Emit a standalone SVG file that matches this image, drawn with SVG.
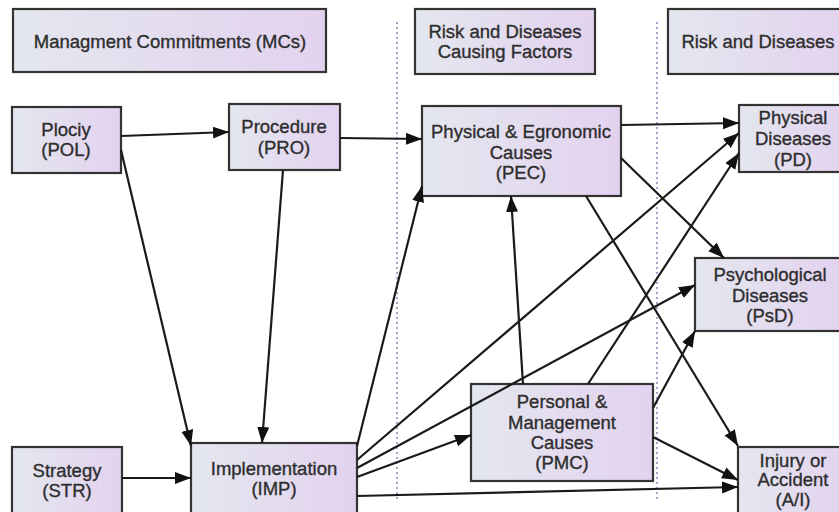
<svg xmlns="http://www.w3.org/2000/svg" width="839" height="512" viewBox="0 0 839 512">
  <defs>
    <linearGradient id="boxFill" x1="0" y1="0" x2="1" y2="0">
      <stop offset="0" stop-color="#e4e7ef"/>
      <stop offset="1" stop-color="#e3d2ef"/>
    </linearGradient>
    <marker id="arrow" markerUnits="userSpaceOnUse" markerWidth="18" markerHeight="14" refX="16" refY="6" orient="auto">
      <path d="M0,0 L16,6 L0,12 z" fill="#111"/>
    </marker>
    <style>
      .box { fill: url(#boxFill); stroke: #333; stroke-width: 2.2; }
      .lbl { font-family: "Liberation Sans", Arial, sans-serif; font-size: 18.5px; fill: #2e2e2e; stroke: #2e2e2e; stroke-width: 0.35; text-anchor: middle; }
      .edge { fill: none; stroke: #1a1a1a; stroke-width: 2.2; marker-end: url(#arrow); }
      .lane { stroke: #8088b8; stroke-width: 1.5; stroke-dasharray: 2 3; }
    </style>
  </defs>

  <rect width="839" height="512" fill="#ffffff"/>

  <!-- lane separators -->
  <g id="lanes">
    <line class="lane" x1="397" y1="22" x2="397" y2="500"/>
    <line class="lane" x1="657" y1="22" x2="657" y2="500"/>
  </g>

  <!-- column headings -->
  <g id="hdr-mcs">
    <rect class="box" x="13" y="9" width="313" height="63"/>
    <text class="lbl" x="170" y="48">Managment Commitments (MCs)</text>
  </g>
  <g id="hdr-factors">
    <rect class="box" x="415" y="9" width="180" height="65"/>
    <text class="lbl" x="505" y="38">Risk and Diseases</text>
    <text class="lbl" x="505" y="58">Causing Factors</text>
  </g>
  <g id="hdr-diseases">
    <rect class="box" x="668" y="9" width="180" height="65"/>
    <text class="lbl" x="758" y="48">Risk and Diseases</text>
  </g>

  <!-- nodes -->
  <g id="POL">
    <rect class="box" x="12" y="107" width="109" height="66"/>
    <text class="lbl" x="66" y="136">Plociy</text>
    <text class="lbl" x="66" y="156">(POL)</text>
  </g>
  <g id="PRO">
    <rect class="box" x="229" y="104" width="111" height="66"/>
    <text class="lbl" x="284" y="133">Procedure</text>
    <text class="lbl" x="284" y="154">(PRO)</text>
  </g>
  <g id="STR">
    <rect class="box" x="12" y="447" width="110" height="70"/>
    <text class="lbl" x="67" y="477">Strategy</text>
    <text class="lbl" x="67" y="497">(STR)</text>
  </g>
  <g id="IMP">
    <rect class="box" x="191" y="443" width="166" height="74"/>
    <text class="lbl" x="274" y="475">Implementation</text>
    <text class="lbl" x="274" y="495">(IMP)</text>
  </g>
  <g id="PEC">
    <rect class="box" x="422" y="106" width="199" height="90"/>
    <text class="lbl" x="521" y="138">Physical &amp; Egronomic</text>
    <text class="lbl" x="521" y="159">Causes</text>
    <text class="lbl" x="521" y="179">(PEC)</text>
  </g>
  <g id="PMC">
    <rect class="box" x="471" y="384" width="182" height="97"/>
    <text class="lbl" x="562" y="408">Personal &amp;</text>
    <text class="lbl" x="562" y="429">Management</text>
    <text class="lbl" x="562" y="449">Causes</text>
    <text class="lbl" x="562" y="469">(PMC)</text>
  </g>
  <g id="PD">
    <rect class="box" x="739" y="105" width="108" height="67"/>
    <text class="lbl" x="793" y="124">Physical</text>
    <text class="lbl" x="793" y="145">Diseases</text>
    <text class="lbl" x="793" y="166">(PD)</text>
  </g>
  <g id="PsD">
    <rect class="box" x="695" y="258" width="150" height="73"/>
    <text class="lbl" x="770" y="281">Psychological</text>
    <text class="lbl" x="770" y="302">Diseases</text>
    <text class="lbl" x="770" y="322">(PsD)</text>
  </g>
  <g id="AI">
    <rect class="box" x="738" y="447" width="110" height="70"/>
    <text class="lbl" x="793" y="467">Injury or</text>
    <text class="lbl" x="793" y="486">Accident</text>
    <text class="lbl" x="793" y="506">(A/I)</text>
  </g>

  <!-- connectors -->
  <g id="connectors">
    <path class="edge" d="M121,136 L229,132"/>
    <path class="edge" d="M340,138 L422,139"/>
    <path class="edge" d="M121,150 L191,446"/>
    <path class="edge" d="M283,170 L262,443"/>
    <path class="edge" d="M122,478 L191,478"/>
    <path class="edge" d="M357,446 L422,186"/>
    <path class="edge" d="M357,460 L739,133"/>
    <path class="edge" d="M357,468 L695,285"/>
    <path class="edge" d="M357,477 L471,435"/>
    <path class="edge" d="M357,496 L738,487"/>
    <path class="edge" d="M523,384 L511,196"/>
    <path class="edge" d="M588,384 L739,153"/>
    <path class="edge" d="M653,408 L695,331"/>
    <path class="edge" d="M653,437 L738,480"/>
    <path class="edge" d="M621,125 L739,123"/>
    <path class="edge" d="M621,158 L724,258"/>
    <path class="edge" d="M586,196 L738,446"/>
  </g>
</svg>
